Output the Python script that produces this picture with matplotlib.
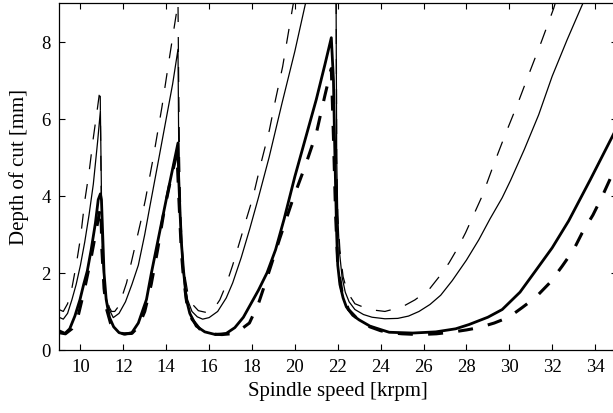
import matplotlib
matplotlib.use("Agg")
import matplotlib.pyplot as plt

plt.rcParams['font.family'] = ['Liberation Serif', 'DejaVu Serif']

# Thin solid curve
ts_x = [9.0, 9.2, 9.4, 9.6, 9.8, 10.0, 10.2, 10.4, 10.6, 10.8, 10.93,
        10.97, 11.0, 11.05, 11.15, 11.3, 11.53, 11.8, 12.1, 12.4, 12.7, 13.0, 13.23, 13.6, 14.0, 14.3, 14.55,
        14.58, 14.62, 14.68, 14.75, 14.85, 15.0, 15.2, 15.45, 15.7, 16.0, 16.4, 16.8, 17.1, 17.5, 17.9, 18.3, 18.8, 19.4, 20.0, 20.5, 21.0, 21.9,
        21.95, 22.0, 22.07, 22.2, 22.35, 22.53, 22.8, 23.2, 23.6, 24.2, 24.8, 25.3, 25.79, 26.3, 26.8, 27.34, 28.0, 28.58, 29.1, 29.67, 30.06, 30.7, 31.37, 32.0, 32.7, 33.4, 33.6]
ts_y = [0.85, 0.8, 0.95, 1.3, 1.7, 2.2, 2.8, 3.5, 4.3, 5.4, 6.2,
        4.5, 3.0, 2.2, 1.5, 1.1, 0.84, 0.95, 1.25, 1.7, 2.2, 3.0, 3.7, 4.8, 6.0, 6.9, 7.8,
        5.5, 4.0, 3.0, 2.3, 1.7, 1.3, 1.0, 0.86, 0.8, 0.84, 1.0, 1.35, 1.74, 2.4, 3.15, 3.95, 5.0, 6.4, 7.75, 9.0, 10.2, 12.4,
        5.0, 3.5, 2.6, 1.9, 1.5, 1.25, 1.05, 0.92, 0.85, 0.81, 0.82, 0.88, 1.0, 1.18, 1.42, 1.8, 2.33, 2.86, 3.4, 3.95, 4.4, 5.2, 6.1, 7.1, 8.05, 8.95, 9.2]

# Thin dashed curve
td_x = [9.0, 9.2, 9.4, 9.6, 9.8, 10.0, 10.21, 10.4, 10.6, 10.8, 10.92,
        10.95, 10.98, 11.03, 11.1, 11.2, 11.35, 11.45, 11.6, 11.8, 12.15, 12.53, 12.8, 13.03, 13.4, 13.8, 14.1, 14.4, 14.55,
        14.58, 14.62, 14.68, 14.75, 14.85, 15.0, 15.2, 15.5, 15.9, 16.2, 16.5, 16.8, 17.1, 17.45, 17.73, 18.04, 18.4, 18.81, 19.1, 19.43, 19.9, 20.0, 21.9,
        21.95, 22.0, 22.1, 22.25, 22.45, 22.8, 23.47, 24.2, 25.01, 25.6, 26.26, 26.8, 27.19, 27.6, 27.96, 28.74, 29.3, 29.82, 30.4, 30.91, 31.5, 32.07, 32.2]
td_y = [1.05, 1.0, 1.2, 1.6, 2.2, 2.9, 3.9, 4.6, 5.5, 6.3, 6.8,
        5.0, 3.5, 2.5, 1.8, 1.4, 1.1, 1.0, 1.0, 1.15, 1.74, 2.65, 3.3, 3.9, 5.0, 6.3, 7.4, 8.47, 9.0,
        7.0, 5.0, 3.5, 2.6, 2.0, 1.5, 1.2, 1.02, 0.97, 1.05, 1.3, 1.7, 2.2, 2.85, 3.38, 3.95, 4.8, 5.7, 6.5, 7.35, 8.9, 9.2, 14.0,
        5.0, 3.5, 2.6, 1.9, 1.5, 1.2, 1.05, 1.0, 1.12, 1.3, 1.57, 1.95, 2.26, 2.65, 3.04, 4.0, 4.85, 5.6, 6.4, 7.15, 8.0, 8.86, 9.1]

# Thick solid curve
ks_x = [9.0, 9.28, 9.5, 9.74, 9.98, 10.15, 10.32, 10.5, 10.7, 10.83, 10.93,
        10.98, 11.05, 11.1, 11.2, 11.35, 11.55, 11.8, 12.07, 12.4, 12.7, 13.08, 13.31, 13.6, 14.0, 14.3, 14.55,
        14.58, 14.65, 14.72, 14.8, 14.94, 15.1, 15.4, 15.8, 16.3, 16.8, 17.2, 17.6, 17.9, 18.3, 18.7, 19.1, 19.5, 20.0, 20.5, 21.0, 21.4, 21.7,
        21.8, 21.85, 21.9, 21.95, 22.0, 22.1, 22.25, 22.4, 22.7, 23.0, 23.5, 24.0, 24.4, 25.5, 26.57, 27.5, 28.12, 29.0, 29.67, 30.5, 31.22, 32.0, 32.77, 33.78, 35.0]
ks_y = [0.5, 0.43, 0.55, 0.88, 1.31, 1.7, 2.05, 2.6, 3.3, 3.9, 4.05,
        3.9, 2.8, 2.0, 1.31, 0.85, 0.6, 0.45, 0.41, 0.45, 0.7, 1.31, 2.0, 2.8, 3.9, 4.7, 5.37,
        4.5, 3.5, 2.7, 2.1, 1.31, 0.95, 0.62, 0.47, 0.4, 0.43, 0.58, 0.85, 1.15, 1.55, 2.0, 2.6, 3.4, 4.5, 5.5, 6.5, 7.4, 8.1,
        7.0, 5.5, 4.2, 3.0, 2.2, 1.7, 1.35, 1.12, 0.9, 0.78, 0.62, 0.53, 0.46, 0.44, 0.47, 0.55, 0.66, 0.85, 1.05, 1.5, 2.05, 2.65, 3.35, 4.42, 5.75]

# Thick dashed curve
kd_x = [9.0, 9.3, 9.6, 9.9, 10.2, 10.5, 10.7, 10.9, 10.95,
        11.0, 11.1, 11.2, 11.4, 11.7, 12.0, 12.4, 12.7, 13.0, 13.3, 13.6, 13.9, 14.2, 14.5,
        14.6, 14.7, 14.8, 14.95, 15.2, 15.6, 16.0, 16.6, 17.0, 17.4, 17.88, 18.3, 18.66, 19.3, 19.9, 20.5, 21.0, 21.4, 21.7,
        21.8, 21.9, 22.0, 22.2, 22.5, 23.0, 23.5, 24.0, 24.4, 25.0, 25.8, 26.6, 27.4, 28.0, 28.58, 29.3, 29.98, 30.6, 31.22, 31.9, 32.46, 33.0, 33.4, 33.9, 34.33, 35.0]
kd_y = [0.45, 0.42, 0.55, 0.9, 1.6, 2.4, 3.0, 3.6, 3.7,
        2.6, 1.6, 1.1, 0.7, 0.48, 0.42, 0.43, 0.6, 1.0, 1.7, 2.6, 3.6, 4.4, 5.1,
        3.8, 2.6, 1.9, 1.25, 0.8, 0.52, 0.42, 0.4, 0.42, 0.5, 0.7, 1.2, 1.8, 2.9, 3.9, 4.8, 5.62, 6.6, 7.3,
        5.5, 3.5, 2.2, 1.5, 1.05, 0.76, 0.6, 0.5, 0.45, 0.42, 0.4, 0.42, 0.47, 0.52, 0.58, 0.7, 0.85, 1.1, 1.36, 1.75, 2.17, 2.6, 3.04, 3.5, 3.98, 4.8]

x_ticks = [10, 12, 14, 16, 18, 20, 22, 24, 26, 28, 30, 32, 34]
y_ticks = [0, 2, 4, 6, 8]

W, H = 613, 414
fig = plt.figure(figsize=(W / 100, H / 100), dpi=100)
left, right, top, bottom = 59, 616.5, 4, 351
ax = fig.add_axes([left / W, (H - bottom) / H, (right - left) / W, (bottom - top) / H])

ax.plot(td_x, td_y, color='black', lw=0.9, dashes=(12, 12))
ax.plot(ts_x, ts_y, color='black', lw=0.9)
ax.plot(kd_x, kd_y, color='black', lw=2.2, dashes=(4.9, 5.0))
ax.plot(ks_x, ks_y, color='black', lw=2.0)

ax.set_xlim(9, 35)
ax.set_ylim(0, 9)
ax.set_xticks(x_ticks)
ax.set_yticks(y_ticks)
ax.tick_params(direction='in', top=True, right=True, length=4.5, width=0.8,
               labelsize=13.5, pad=6)
for s in ax.spines.values():
    s.set_linewidth(0.9)
ax.set_xlabel('Spindle speed [krpm]', fontsize=15, labelpad=4)
ax.set_ylabel('Depth of cut [mm]', fontsize=15)
ax.yaxis.set_label_coords(-0.054, 0.53)

fig.savefig('out.png', dpi=100)
